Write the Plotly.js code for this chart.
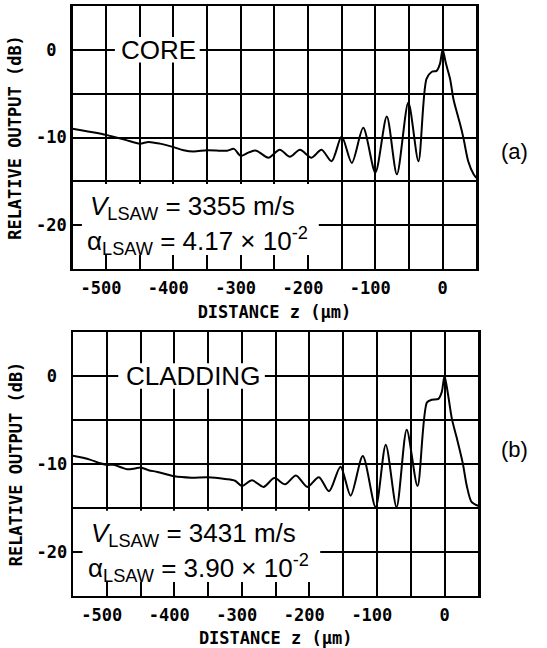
<!DOCTYPE html>
<html><head><meta charset="utf-8">
<script src="https://cdn.plot.ly/plotly-3.0.1.min.js"></script>
<style>html,body{margin:0;padding:0;background:#fff}#chart{width:547px;height:648px}</style>
</head><body><div id="chart"></div>
<script>
// ---- data ----
const coreZ  = [-550,-535,-520,-500,-485,-470,-450,-437,-420,-400,-385,-370,-350,-330,-320,-310,-300,-288,-277,-259,-242,-227,-212,-195,-180,-165,-150,-135,-118,-100,-83,-68,-51,-36,-24,-16,-9,-4,0,5,11,16,21,26,31,38,46,50];
const coreDb = [-9.0,-9.2,-9.4,-9.7,-10.0,-10.3,-10.7,-10.5,-10.7,-11.1,-11.45,-11.6,-11.45,-11.5,-11.5,-11.3,-12.1,-11.7,-11.5,-12.3,-11.4,-12.2,-11.4,-12.3,-11.4,-12.7,-9.9,-12.9,-8.9,-14.0,-7.6,-14.2,-6.0,-12.7,-3.3,-2.5,-2.4,-1.6,0,-1.6,-3.3,-5.6,-7.1,-8.5,-10.1,-12.7,-14.2,-14.6];

const cladZ  = [-550,-535,-525,-510,-500,-490,-478,-470,-458,-450,-438,-425,-400,-375,-350,-325,-310,-300,-285,-268,-252,-236,-220,-203,-186,-171,-154,-139,-121,-102,-87,-71,-56,-40,-26,-19,-9,-4,0,5,11,18,27,33,40,50];
const cladDb = [-9.06,-9.3,-9.5,-9.9,-10.1,-10.1,-10.4,-10.6,-10.5,-10.4,-10.7,-10.9,-11.4,-11.55,-11.5,-11.7,-11.9,-12.5,-11.85,-12.6,-11.6,-12.3,-11.3,-12.6,-11.5,-13.1,-10.3,-13.6,-9.1,-14.9,-7.8,-14.9,-6.1,-12.5,-3.0,-2.7,-2.6,-1.8,0,-2.0,-4.9,-7.0,-9.9,-12.5,-14.3,-14.75];

const xTickVals = [-500,-450,-400,-350,-300,-250,-200,-150,-100,-50,0,50];
const xTickText = ['-500\u00a0','','-400\u00a0','','-300\u00a0','','-200\u00a0','','-100\u00a0','','0',''];
const yTickVals = [-20,-15,-10,-5,0,5];
const yTickText = ['-20','','-10','','0\u00a0',''];

const panelNames = ['CORE','CLADDING'];
const vLsaw = ['3355','3431'];
const aLsaw = ['4.17','3.90'];
const panelTags = ['(a)','(b)'];

// ---- styling ----
const W = 547, H = 648;
const monoFont = {family:'DejaVu Sans Mono, monospace', size:17, color:'#000', weight:'bold'};
const sansFont = {family:'Liberation Sans, Arial, sans-serif', size:26, color:'#000'};

function xAxis(domain, anchor){
  return {domain, anchor, range:[-550,50], tickmode:'array', tickvals:xTickVals, ticktext:xTickText,
    showgrid:true, gridcolor:'#000', gridwidth:2, zeroline:false, showline:true, linecolor:'#000',
    linewidth:2.4, mirror:true, ticks:'', tickfont:monoFont, fixedrange:true, ticklabelstandoff:2,
    title:{text:'\u00a0\u00a0\u00a0DISTANCE z (µm)', font:monoFont, standoff:10}};
}
function yAxis(domain, anchor){
  return {domain, anchor, range:[-25,5], tickmode:'array', tickvals:yTickVals, ticktext:yTickText,
    showgrid:true, gridcolor:'#000', gridwidth:2, zeroline:false, showline:true, linecolor:'#000',
    linewidth:2.4, mirror:true, ticks:'', tickfont:monoFont, fixedrange:true,
    title:{text:'RELATIVE OUTPUT (dB)', font:monoFont, standoff:10}};
}

const traces = [
  {x:coreZ, y:coreDb, xaxis:'x', yaxis:'y', mode:'lines', line:{color:'#000', width:2, shape:'spline', smoothing:0.8}, hoverinfo:'skip'},
  {x:cladZ, y:cladDb, xaxis:'x2', yaxis:'y2', mode:'lines', line:{color:'#000', width:2, shape:'spline', smoothing:0.8}, hoverinfo:'skip'}
];

const shapes = [], annotations = [];
const refs = [['x','y'],['x2','y2']];
const nameBox = [[-487,-361],[-483,-266]];
const nameX = [-422,-372];
const tagY = [1-136.5/H, 1-464/H];
for (let i=0;i<2;i++){
  const [xr, yr] = refs[i];
  shapes.push({type:'rect', xref:xr, yref:yr, x0:nameBox[i][0], x1:nameBox[i][1], y0:-1.45, y1:1.45,
    fillcolor:'#fff', line:{width:0}, layer:'between'});
  shapes.push({type:'rect', xref:xr, yref:yr, x0:-536, x1:-184, y0:-23.4, y1:-15.3,
    fillcolor:'#fff', line:{width:0}, layer:'between'});
  annotations.push({xref:xr, yref:yr, x:nameX[i], y:0, text:panelNames[i], showarrow:false, font:sansFont});
  annotations.push({xref:xr, yref:yr, x:-527, y:-18.0, xanchor:'left', showarrow:false, font:sansFont,
    text:'<i>V</i><sub>LSAW</sub> = '+vLsaw[i]+' m/s'});
  annotations.push({xref:xr, yref:yr, x:-531, y:-21.8, xanchor:'left', showarrow:false, font:sansFont,
    text:'α<sub>LSAW</sub> = '+aLsaw[i]+' × 10<sup>-2</sup>'});
  annotations.push({xref:'paper', yref:'paper', x:530/W, y:tagY[i], text:panelTags[i], showarrow:false,
    font:{family:'Liberation Sans, Arial, sans-serif', size:22, color:'#000'}});
}

const layout = {
  width:W, height:H, margin:{l:0,r:0,t:0,b:0}, showlegend:false,
  paper_bgcolor:'#fff', plot_bgcolor:'#fff',
  xaxis: xAxis([72.5/W, 476.3/W], 'y'),
  yaxis: yAxis([1-269/H, 1-6/H], 'x'),
  xaxis2: xAxis([73/W, 478.3/W], 'y2'),
  yaxis2: yAxis([1-596/H, 1-332/H], 'x2'),
  shapes, annotations
};
Plotly.newPlot('chart', traces, layout, {displayModeBar:false, staticPlot:true});
</script></body></html>
